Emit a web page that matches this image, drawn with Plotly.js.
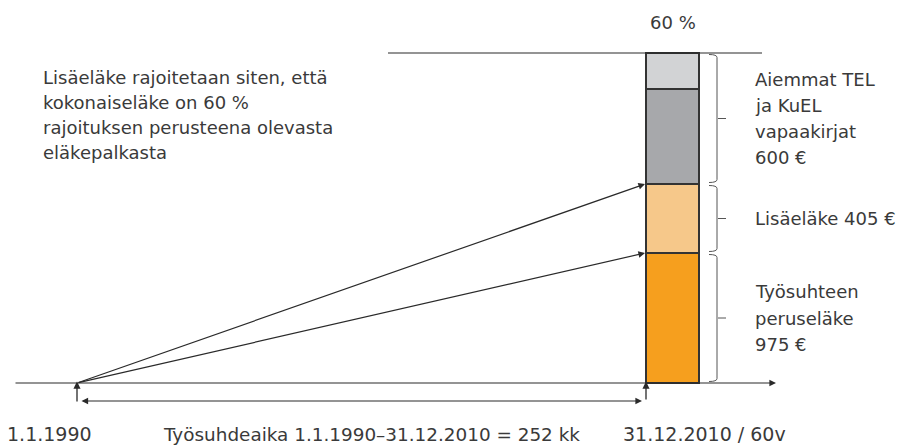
<!DOCTYPE html>
<html>
<head>
<meta charset="utf-8">
<script src="https://cdn.plot.ly/plotly-3.0.1.min.js"></script>
<style>html,body{margin:0;padding:0;background:#fff;}#chart{width:900px;height:447px;}</style>
</head>
<body>
<div id="chart"></div>
<script>
// ---- Data ----
const segmentNames = ['Työsuhteen peruseläke', 'Lisäeläke', 'Aiemmat TEL ja KuEL vapaakirjat', 'Aiemmat TEL ja KuEL vapaakirjat (yläosa)'];
const segmentHeights = [130, 69, 95, 36];          // drawn heights of the stacked pieces
const segmentColors = ['#F69F1E', '#F6C88A', '#A7A8AB', '#D2D3D5'];
const groupLabels = [
  ['Työsuhteen', 'peruseläke', '975 €'],
  ['Lisäeläke 405 €'],
  ['Aiemmat TEL', 'ja KuEL', 'vapaakirjat', '600 €']
];
const groupSpans = [[0, 1], [1, 2], [2, 4]];      // which pieces each label brackets
const limitLabel = '60 %';
const noteLines = ['Lisäeläke rajoitetaan siten, että', 'kokonaiseläke on 60 %', 'rajoituksen perusteena olevasta', 'eläkepalkasta'];
const startLabel = '1.1.1990';
const periodLabel = 'Työsuhdeaika 1.1.1990–31.12.2010 = 252 kk';
const endLabel = '31.12.2010 / 60v';

// ---- Layout helpers ----
const BASE = 383;                 // pixel row of the time axis
const Y = py => BASE - py;        // pixel row -> y value
const barX = 672.5, barW = 53;
const startX = 77;
const FONT = '"DejaVu Sans", "Noto Sans", sans-serif';
const TXT = '#3a3a3a';
const LINE = '#2a2a2a';

const cum = [0];
segmentHeights.forEach((h, i) => cum.push(cum[i] + h));
const total = cum[cum.length - 1];

const traces = segmentHeights.map((h, i) => ({
  type: 'bar', x: [barX], y: [h], width: barW, name: segmentNames[i],
  marker: {color: segmentColors[i], line: {color: '#333', width: 1.5}},
  hoverinfo: 'name'
}));

const annotations = [];
const shapes = [];

function arrow(x0, y0, x1, y1, opts) {
  annotations.push(Object.assign({
    x: x1, y: y1, ax: x0, ay: y0, xref: 'x', yref: 'y', axref: 'x', ayref: 'y',
    text: '', showarrow: true, arrowhead: 2, arrowsize: 1.1, arrowwidth: 1.2,
    arrowcolor: LINE, standoff: 0, startstandoff: 0
  }, opts || {}));
}
function label(text, x, py, xanchor, size, yanchor) {
  annotations.push({x: x, y: Y(py), xref: 'x', yref: 'y', text: text, showarrow: false,
    xanchor: xanchor || 'left', yanchor: yanchor || 'middle', borderpad: 0,
    font: {family: FONT, size: size || 18, color: TXT}});
}

// time axis with arrow
arrow(14, 0, 776, 0);
// limit line at 60 %
shapes.push({type: 'line', xref: 'x', yref: 'y', x0: 388, x1: 762, y0: total, y1: total, line: {color: LINE, width: 1.2}});
// rays from employment start to the top of each pension piece
[cum[1], cum[2]].forEach(v => arrow(startX, 0, barX - barW / 2 - 1, v));
// small up arrows at start and end dates
arrow(startX, Y(403), startX, 1.5, {arrowwidth: 1.3});
arrow(barX - barW / 2, Y(401), barX - barW / 2, 1.5, {arrowwidth: 1.3});
// double arrow for employment period
arrow(80, Y(401), 642, Y(401), {arrowside: 'end+start'});

// brackets
const bx = 717, hook = 8;
groupSpans.forEach((sp, gi) => {
  const top = cum[sp[1]] - 1.5, bot = cum[sp[0]] + 1.5, mid = (top + bot) / 2;
  const r = 3;
  const path = `M ${bx - hook} ${top} Q ${bx} ${top} ${bx} ${top - r} L ${bx} ${bot + r} Q ${bx} ${bot} ${bx - hook} ${bot}`;
  shapes.push({type: 'path', xref: 'x', yref: 'y', path: path, line: {color: '#555', width: 1}});
  shapes.push({type: 'line', xref: 'x', yref: 'y', x0: bx + 1, x1: bx + 9, y0: mid, y1: mid, line: {color: '#555', width: 1}});
  const lines = groupLabels[gi];
  const step = 26.3;
  const centerPy = BASE - mid;
  lines.forEach((t, li) => label(t, 754, centerPy + (li - (lines.length - 1) / 2) * step));
});

// texts
label(limitLabel, barX, 22, 'center');
noteLines.forEach((t, i) => label(t, 42, 77 + i * 25));
label(startLabel, 49, 446, 'center', 19, 'bottom');
label(periodLabel, 162, 446, 'left', 18.4, 'bottom');
label(endLabel, 622, 446, 'left', 19, 'bottom');

const layout = {
  width: 900, height: 447, margin: {l: 0, r: 0, t: 0, b: 0},
  paper_bgcolor: '#fff', plot_bgcolor: '#fff', showlegend: false, barmode: 'stack',
  xaxis: {range: [0, 900], visible: false, fixedrange: true},
  yaxis: {range: [BASE - 447, BASE], visible: false, fixedrange: true},
  annotations: annotations, shapes: shapes
};
Plotly.newPlot('chart', traces, layout, {displayModeBar: false, staticPlot: true});
</script>
</body>
</html>
